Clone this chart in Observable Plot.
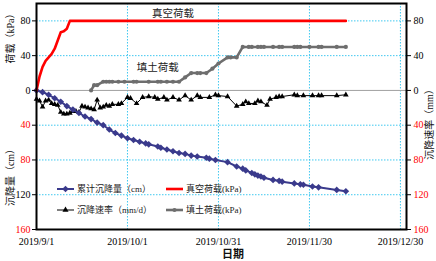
<!DOCTYPE html>
<html><head><meta charset="utf-8">
<script src="https://cdn.jsdelivr.net/npm/d3@7"></script>
<script src="https://cdn.jsdelivr.net/npm/@observablehq/plot@0.6"></script>
<style>
body{margin:0;background:#fff;}
#chart{position:relative;width:436px;height:261px;}
</style></head><body><div id="chart"></div>
<script>
// ---- data ----
const settleDates = ["2019-09-01","2019-09-03","2019-09-05","2019-09-07","2019-09-09","2019-09-11","2019-09-13","2019-09-15","2019-09-17","2019-09-19","2019-09-21","2019-09-23","2019-09-25","2019-09-27","2019-09-29","2019-10-01","2019-10-03","2019-10-05","2019-10-07","2019-10-08","2019-10-11","2019-10-12","2019-10-14","2019-10-16","2019-10-18","2019-10-20","2019-10-22","2019-10-24","2019-10-27","2019-10-28","2019-10-30","2019-11-03","2019-11-06","2019-11-08","2019-11-09","2019-11-11","2019-11-12","2019-11-13","2019-11-14","2019-11-15","2019-11-18","2019-11-20","2019-11-21","2019-11-25","2019-11-27","2019-11-28","2019-12-01","2019-12-03","2019-12-09","2019-12-12"];
const settleCm = [0,2,5,9,13,18,22,26,30,33,37,40,45,49,52,55,57,59,61,62,64.5,66,68,70,72,73,75,76,77.5,78.5,80,82.5,87.5,90,92,95,96.5,98,99,100.5,103,104,105,107,108,108.5,110.5,111.5,114.5,116];

const rateDates = ["2019-09-01","2019-09-02","2019-09-03","2019-09-04","2019-09-05","2019-09-06","2019-09-07","2019-09-08","2019-09-09","2019-09-10","2019-09-11","2019-09-12","2019-09-13","2019-09-14","2019-09-15","2019-09-16","2019-09-17","2019-09-18","2019-09-19","2019-09-20","2019-09-21","2019-09-22","2019-09-23","2019-09-24","2019-09-25","2019-09-26","2019-09-28","2019-09-29","2019-10-01","2019-10-02","2019-10-04","2019-10-06","2019-10-08","2019-10-10","2019-10-11","2019-10-13","2019-10-14","2019-10-16","2019-10-18","2019-10-20","2019-10-22","2019-10-24","2019-10-25","2019-10-28","2019-10-30","2019-10-31","2019-11-03","2019-11-06","2019-11-08","2019-11-09","2019-11-10","2019-11-12","2019-11-13","2019-11-14","2019-11-16","2019-11-17","2019-11-19","2019-11-20","2019-11-21","2019-11-25","2019-11-26","2019-11-28","2019-12-01","2019-12-03","2019-12-04","2019-12-09","2019-12-12"];
const rateMmPerDay = [10,12,19,12,11,15,16,17,25,27,27,26,24,24,25,18,19,20,21,22,11,20,19,17,18,16,16,15,8,9,15,8,7,8,10,8,11,8,11,6,11,6,8,8,5,6,7,18,16,13,15,15,12,13,17,10,8,7,7,5,6,6,6,6,6,6,5];

const vacuumDates = ["2019-09-01","2019-09-02","2019-09-03","2019-09-04","2019-09-06","2019-09-07","2019-09-09","2019-09-10","2019-09-11","2019-09-12","2019-12-12"];
const vacuumKPa = [0,16,27,34,42,48,67,68,71,80,80];

const fillDates = ["2019-09-19","2019-09-20","2019-09-21","2019-09-23","2019-09-24","2019-09-25","2019-09-26","2019-09-28","2019-09-30","2019-10-03","2019-10-04","2019-10-08","2019-10-11","2019-10-12","2019-10-14","2019-10-16","2019-10-18","2019-10-20","2019-10-22","2019-10-24","2019-10-25","2019-10-27","2019-10-29","2019-10-31","2019-11-03","2019-11-04","2019-11-06","2019-11-08","2019-11-10","2019-11-11","2019-11-13","2019-11-14","2019-11-15","2019-11-18","2019-11-20","2019-11-21","2019-11-25","2019-11-26","2019-11-27","2019-11-30","2019-12-03","2019-12-04","2019-12-09","2019-12-12"];
const fillKPa = [0,6,6,10,10,10,10,10,10,10,10,10,10,10,10,10,10,15,20,20,20,20,25,31,38,38,38,50,50,50,50,50,50,50,50,50,50,50,50,50,50,50,50,50];

const xTickDates = ["2019-09-01","2019-10-01","2019-10-31","2019-11-30","2019-12-30"];
const xGridDates = ["2019-10-01","2019-10-31","2019-11-30","2019-12-30"];
const xDomain = ["2019-09-01","2020-01-01"];
const yDomain = [-160, 100];
const yGrid = [80, 40, -40, -80, -120];
const leftBlackTicks = [80, 40, 0, -120];
const leftRedTicks = [-40, -80, -160];
const rightBlackTicks = [80, 40, 0];
const rightRedTicks = [-40, -80, -120, -160];

const seriesNames = ["累计沉降量（cm）", "真空荷载(kPa)", "沉降速率（mm/d）", "填土荷载(kPa)"];
const annotations = [
  {date: "2019-10-16", v: 88, text: "真空荷载"},
  {date: "2019-10-11", v: 26, text: "填土荷载"}
];
const titles = {left1: "荷载（kPa）", left2: "沉降量（cm）", right: "沉降速率（mm）", x: "日期"};

// ---- build ----
const parse = d3.utcParse("%Y-%m-%d");
const rows = (dates, vals, sign) => dates.map((d, i) => ({date: parse(d), v: sign * vals[i]}));
const settle = rows(settleDates, settleCm, -1);
const rate = rows(rateDates, rateMmPerDay, -1);
const vacuum = rows(vacuumDates, vacuumKPa, 1);
const fill = rows(fillDates, fillKPa, 1);
const ann = annotations.map(a => ({...a, date: parse(a.date)}));
const fmt = d => `${d.getUTCFullYear()}/${d.getUTCMonth() + 1}/${d.getUTCDate()}`;

const BLUE = "#3a3a8c", GRAY = "#6e6e6e", GRID = "#3fc8f0";
const FONT = "'Liberation Serif','Noto Sans CJK SC',serif";

const plot = Plot.plot({
  width: 436, height: 261,
  marginLeft: 36, marginRight: 30, marginTop: 3, marginBottom: 32,
  style: {fontFamily: FONT, fontSize: "10px", background: "white", color: "black", overflow: "visible"},
  x: {type: "utc", domain: xDomain.map(parse), label: null},
  y: {domain: yDomain, label: null},
  marks: [
    Plot.ruleX(xGridDates.map(parse), {stroke: GRID, strokeDasharray: "1.5,1.5"}),
    Plot.ruleY(yGrid, {stroke: GRID, strokeDasharray: "1.5,1.5"}),
    Plot.ruleY([0], {stroke: "#a0a0a0"}),
    Plot.line(fill, {x: "date", y: "v", stroke: GRAY, strokeWidth: 2.6}),
    Plot.dot(fill, {x: "date", y: "v", r: 2.1, fill: GRAY}),
    Plot.line(rate, {x: "date", y: "v", stroke: "black", strokeWidth: 1}),
    Plot.dot(rate, {x: "date", y: "v", symbol: "triangle", r: 2.1, fill: "black"}),
    Plot.line(settle, {x: "date", y: "v", stroke: BLUE, strokeWidth: 2}),
    Plot.dot(settle, {x: "date", y: "v", symbol: "diamond2", r: 3, fill: BLUE}),
    Plot.line(vacuum, {x: "date", y: "v", stroke: "#ff0000", strokeWidth: 2.6}),
    Plot.text(ann, {x: "date", y: "v", text: "text", fontSize: 10.5, fill: "#222"}),
    Plot.axisX({ticks: xTickDates.map(parse), tickFormat: fmt, tickSize: 0, tickPadding: 8, label: null, fontSize: 10}),
    Plot.axisY({anchor: "left", ticks: leftBlackTicks, tickFormat: d => Math.abs(d), tickSize: 4, tickPadding: 2, label: null, fontSize: 10}),
    Plot.axisY({anchor: "left", ticks: leftRedTicks, tickFormat: d => Math.abs(d), tickSize: 4, tickPadding: 2, label: null, fill: "#ff0000", stroke: "black", fontSize: 10}),
    Plot.axisY({anchor: "right", ticks: rightBlackTicks, tickFormat: d => Math.abs(d), tickSize: 4, tickPadding: 3, label: null, fontSize: 10}),
    Plot.axisY({anchor: "right", ticks: rightRedTicks, tickFormat: d => Math.abs(d), tickSize: 4, tickPadding: 3, label: null, fill: "#ff0000", stroke: "black", fontSize: 10}),
    Plot.frame({stroke: "black", strokeWidth: 2})
  ]
});
document.getElementById("chart").appendChild(plot);

// ---- titles & legend (decoration) ----
const svg = d3.select(plot);
const addTitle = (txt, x, y, rot, size, weight) => svg.append("text")
  .attr("transform", `translate(${x},${y}) rotate(${rot})`)
  .attr("text-anchor", "middle").attr("dominant-baseline", "central")
  .attr("font-family", FONT).attr("font-size", size).attr("font-weight", weight || "normal")
  .attr("fill", "#111").text(txt);
addTitle(titles.left1, 10, 36, -90, 10);
addTitle(titles.left2, 10, 175, -90, 10);
addTitle(titles.right, 429, 122, -90, 10);
addTitle(titles.x, 233, 254, 0, 11, "bold");

const leg = svg.append("g").attr("font-family", FONT).attr("font-size", 9).attr("text-anchor", "start");
const items = [
  {x: 57, y: 189, color: BLUE, sym: d3.symbolSquare, rot: 45, size: 22, w: 2},
  {x: 166, y: 189, color: "#ff0000", sym: null, w: 2.6},
  {x: 57, y: 210, color: "black", sym: d3.symbolTriangle, rot: 0, size: 16, w: 1},
  {x: 166, y: 210, color: GRAY, sym: d3.symbolCircle, rot: 0, size: 14, w: 2.6}
];
items.forEach((it, i) => {
  leg.append("line").attr("x1", it.x).attr("x2", it.x + 17).attr("y1", it.y).attr("y2", it.y)
    .attr("stroke", it.color).attr("stroke-width", it.w);
  if (it.sym) leg.append("path").attr("d", d3.symbol(it.sym, it.size)())
    .attr("transform", `translate(${it.x + 8.5},${it.y}) rotate(${it.rot})`).attr("fill", it.color);
  leg.append("text").attr("x", it.x + 20).attr("y", it.y).attr("dominant-baseline", "central")
    .attr("text-anchor", "start").attr("fill", "#222").text(seriesNames[i]);
});
</script></body></html>
